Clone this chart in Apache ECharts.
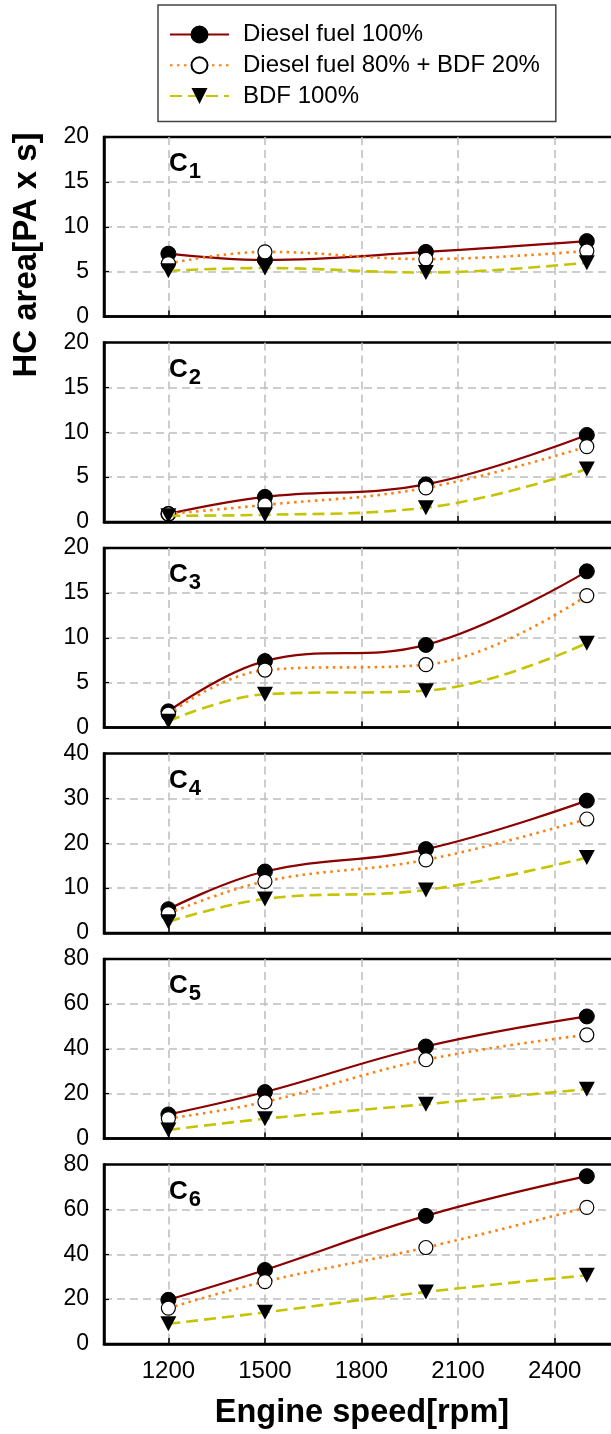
<!DOCTYPE html>
<html>
<head>
<meta charset="utf-8">
<script src="https://cdn.jsdelivr.net/npm/echarts@6/dist/echarts.min.js"></script>
<style>
  html, body { margin: 0; padding: 0; background: #fff; overflow: hidden; }
  #chart { width: 630px; height: 1434px; }
</style>
</head>
<body>
<div id="chart"></div>
<script>
// Engine speeds (rpm) at which HC area was measured
const speeds = [1200, 1500, 2000, 2500];
const speedTicks = [1200, 1500, 1800, 2100, 2400];

// Panel labels (crank-angle zones C1..C6)
const panelSubs = ['1', '2', '3', '4', '5', '6'];

// HC area [PA x s] per panel
const diesel100 = [
  [7.0, 6.3, 7.2, 8.4],
  [0.9, 2.8, 4.2, 9.7],
  [1.8, 7.4, 9.2, 17.4],
  [5.3, 13.7, 18.7, 29.5],
  [10.7, 20.7, 41.0, 54.4],
  [19.7, 33.0, 57.1, 74.8]
];
const diesel80bdf20 = [
  [5.9, 7.2, 6.4, 7.3],
  [0.9, 1.9, 3.8, 8.4],
  [1.5, 6.4, 7.0, 14.7],
  [4.3, 11.5, 16.3, 25.4],
  [8.9, 16.3, 35.1, 46.2],
  [16.0, 27.8, 43.0, 60.9]
];
const bdf100 = [
  [5.1, 5.4, 4.9, 6.0],
  [0.7, 0.8, 1.6, 5.9],
  [0.7, 3.7, 4.1, 9.4],
  [2.5, 7.6, 9.6, 16.8],
  [3.8, 8.8, 15.3, 22.0],
  [9.0, 14.1, 23.2, 30.6]
];

// y-axis scale per panel
const yMax = [20, 20, 20, 40, 80, 80];
const yStep = [5, 5, 5, 10, 20, 20];

const seriesNames = ['Diesel fuel 100%', 'Diesel fuel 80% + BDF 20%', 'BDF 100%'];

const FONT = "'Liberation Sans', Arial, sans-serif";
const gridLeft = 104;
const gridWidth = 515;
const gridTop0 = 137;
const gridStep = 205.5;
const gridHeight = 179.5;

const grids = [], xAxes = [], yAxes = [], series = [], graphics = [];

for (let i = 0; i < 6; i++) {
  const top = gridTop0 + i * gridStep;
  const last = i === 5;
  grids.push({
    left: gridLeft, top: top, width: gridWidth, height: gridHeight,
    show: true, borderColor: '#000', borderWidth: 2.5, backgroundColor: 'transparent'
  });
  xAxes.push({
    type: 'value', gridIndex: i, min: 1000, max: 2600,
    axisLine: { show: true, onZero: false, lineStyle: { color: '#000', width: 2.5 } },
    axisTick: { show: true, inside: true, length: 6, customValues: speedTicks,
      lineStyle: { color: '#000', width: 1.5 } },
    axisLabel: { show: last, customValues: speedTicks, margin: 15,
      fontSize: 24, color: '#000', fontFamily: FONT, formatter: v => String(v) },
    splitLine: { show: true, lineStyle: { color: '#bdbdbd', width: 1.5, type: [8, 5] } }
  });
  yAxes.push({
    type: 'value', gridIndex: i, min: 0, max: yMax[i], interval: yStep[i],
    axisLine: { show: true, lineStyle: { color: '#000', width: 2.5 } },
    axisTick: { show: true, inside: true, length: 5, lineStyle: { color: '#000', width: 1.2 } },
    axisLabel: { margin: 15, fontSize: 23, color: '#000', fontFamily: FONT },
    splitLine: { show: true, showMinLine: false, showMaxLine: false,
      lineStyle: { color: '#bdbdbd', width: 1.5, type: [8, 5] } }
  });

  const pts = arr => speeds.map((s, k) => [s, arr[k]]);
  series.push({
    name: seriesNames[0], type: 'line', xAxisIndex: i, yAxisIndex: i,
    data: pts(diesel100[i]), smooth: 0.4,
    symbol: 'circle', symbolSize: 15,
    lineStyle: { color: '#8B0000', width: 2.2 },
    itemStyle: { color: '#000', borderColor: '#000', borderWidth: 1 },
    emphasis: { disabled: true }, z: 2
  });
  series.push({
    name: seriesNames[1], type: 'line', xAxisIndex: i, yAxisIndex: i,
    data: pts(diesel80bdf20[i]), smooth: 0.4,
    symbol: 'circle', symbolSize: 14,
    lineStyle: { color: '#FF7F0E', width: 2.6, type: [2.5, 4.5] },
    itemStyle: { color: '#fff', borderColor: '#000', borderWidth: 1.2 },
    emphasis: { disabled: true }, z: 3
  });
  series.push({
    name: seriesNames[2], type: 'line', xAxisIndex: i, yAxisIndex: i,
    data: pts(bdf100[i]), smooth: 0.4,
    symbol: 'triangle', symbolRotate: 180, symbolSize: [16, 15],
    lineStyle: { color: '#C4C400', width: 2.6, type: [12, 6] },
    itemStyle: { color: '#000' },
    emphasis: { disabled: true }, z: 4
  });

  // panel label C with subscript index
  graphics.push({
    type: 'text', left: 169, top: top + 14, z: 10,
    style: {
      text: '{c|C}{s|' + panelSubs[i] + '}',
      rich: {
        c: { fontSize: 26, fontWeight: 'bold', fontFamily: FONT, fill: '#000' },
        s: { fontSize: 22, fontWeight: 'bold', fontFamily: FONT, fill: '#000', padding: [16, 0, 0, 1] }
      }
    }
  });
}

// axis titles
graphics.push({
  type: 'text', x: 27, y: 255, rotation: Math.PI / 2, z: 10,
  style: { text: 'HC area[PA x s]', align: 'center', verticalAlign: 'middle',
    font: 'bold 33px ' + FONT, fill: '#000' }
});
graphics.push({
  type: 'text', x: 362, y: 1413, z: 10,
  style: { text: 'Engine speed[rpm]', align: 'center', verticalAlign: 'middle',
    font: 'bold 32.5px ' + FONT, fill: '#000' }
});

const chart = echarts.init(document.getElementById('chart'), null, { renderer: 'canvas' });
chart.setOption({
  animation: false,
  backgroundColor: '#fff',
  textStyle: { fontFamily: FONT },
  legend: {
    orient: 'vertical', left: 158, top: 5,
    padding: [17, 16, 13, 11],
    itemWidth: 59, itemHeight: 20, itemGap: 5.75,
    borderColor: '#444', borderWidth: 1.5,
    textStyle: { fontSize: 24, lineHeight: 25, color: '#000', fontFamily: FONT, padding: [0, 0, 0, 9] },
    data: seriesNames,
    selectedMode: false
  },
  grid: grids,
  xAxis: xAxes,
  yAxis: yAxes,
  series: series,
  graphic: graphics
});
</script>
</body>
</html>
